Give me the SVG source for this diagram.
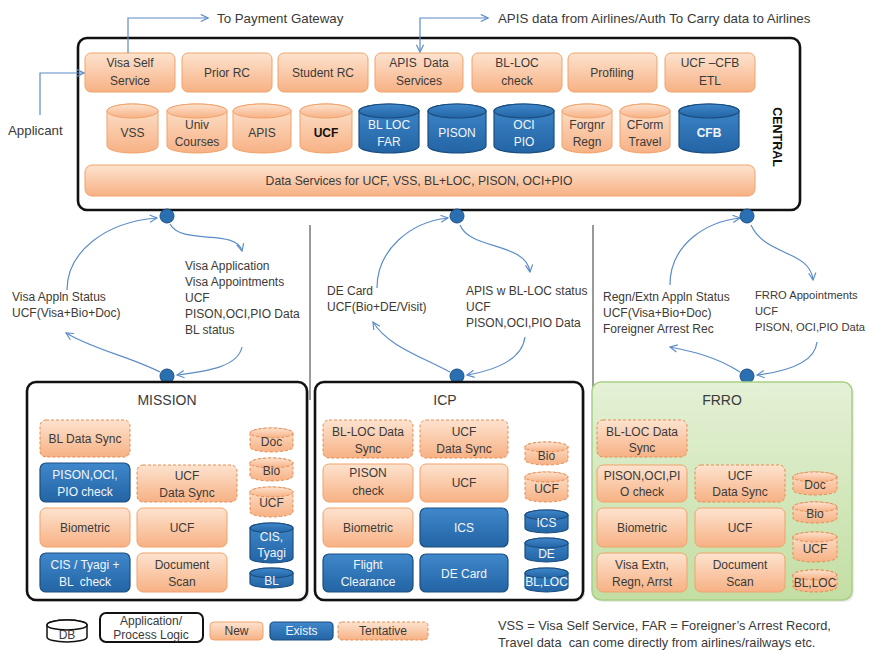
<svg xmlns="http://www.w3.org/2000/svg" width="870" height="653" viewBox="0 0 870 653">
<defs>
<linearGradient id="og" x1="0" y1="0" x2="0" y2="1"><stop offset="0" stop-color="#fde3cf"/><stop offset="1" stop-color="#f7b184"/></linearGradient>
<linearGradient id="bg" x1="0" y1="0" x2="0" y2="1"><stop offset="0" stop-color="#3f88cb"/><stop offset="1" stop-color="#2364a4"/></linearGradient>
<linearGradient id="fg" x1="0" y1="0" x2="0" y2="1"><stop offset="0" stop-color="#e4f1d6"/><stop offset="1" stop-color="#c3dea3"/></linearGradient>
<marker id="ah" viewBox="0 0 10 10" refX="9" refY="5" markerWidth="9" markerHeight="9" markerUnits="userSpaceOnUse" orient="auto-start-reverse"><path d="M1,1 L9,5 L1,9" fill="none" stroke="#5b8cc8" stroke-width="1.3"/></marker>
</defs>
<style>
text{font-family:"Liberation Sans",Arial,sans-serif;font-size:12px;fill:#3a3a3a}
.c{text-anchor:middle}
.w{fill:#f2f6fb}
.bd{font-weight:bold}
.lb{font-size:12px;fill:#3d3a36}
.lr{font-size:11.2px;fill:#3d3a36}
.tp{font-size:13.3px}
.o{fill:url(#og);stroke:#f1a36b;stroke-width:1}
.b{fill:url(#bg);stroke:#1b4e80;stroke-width:1.2}
.t{fill:url(#og);stroke:#e48c50;stroke-width:1;stroke-dasharray:3 2}
.k{fill:#fff;stroke:#111;stroke-width:2.6}
.ln{fill:none;stroke:#5b8cc8;stroke-width:1.2}
.dot{fill:#2b6fb3;stroke:#1c4f82;stroke-width:1}
.div{stroke:#555;stroke-width:1.2}
</style>
<rect width="870" height="653" fill="#fff"/>

<g id="central">
<rect class="k" x="78" y="38" width="722" height="172" rx="9"/>
<text class="bd" transform="translate(773,137) rotate(90)" text-anchor="middle" style="font-size:12.5px;fill:#111">CENTRAL</text>
</g>
<g id="visa-self-service"><rect class="o" x="85" y="53" width="90" height="39" rx="6"/><text class="c" x="130" y="67">Visa Self</text><text class="c" x="130" y="85">Service</text></g>
<g id="prior-rc"><rect class="o" x="182" y="53" width="90" height="39" rx="6"/><text class="c" x="227" y="77">Prior RC</text></g>
<g id="student-rc"><rect class="o" x="278" y="53" width="90" height="39" rx="6"/><text class="c" x="323" y="77">Student RC</text></g>
<g id="apis-data-services"><rect class="o" x="375" y="53" width="88" height="39" rx="6"/><text class="c" x="419" y="67" xml:space="preserve">APIS  Data</text><text class="c" x="419" y="85">Services</text></g>
<g id="bl-loc-check"><rect class="o" x="472" y="53" width="90" height="39" rx="6"/><text class="c" x="517" y="67">BL-LOC</text><text class="c" x="517" y="85">check</text></g>
<g id="profiling"><rect class="o" x="568" y="53" width="89" height="39" rx="6"/><text class="c" x="612" y="77">Profiling</text></g>
<g id="ucf-cfb-etl"><rect class="o" x="665" y="53" width="90" height="39" rx="6"/><text class="c" x="710" y="67">UCF –CFB</text><text class="c" x="710" y="85">ETL</text></g>

<g id="db-vss"><path class="o" d="M107,111 V146 A25.5,7 0 0 0 158,146 V111 A25.5,7 0 0 0 107,111 Z"/><ellipse class="o" cx="132.5" cy="111" rx="25.5" ry="7"/><text class="c" x="132.5" y="137">VSS</text></g>
<g id="db-univ"><path class="o" d="M167,111 V146 A30,7 0 0 0 227,146 V111 A30,7 0 0 0 167,111 Z"/><ellipse class="o" cx="197" cy="111" rx="30" ry="7"/><text class="c" x="197" y="129">Univ</text><text class="c" x="197" y="146">Courses</text></g>
<g id="db-apis"><path class="o" d="M233,111 V146 A29,7 0 0 0 291,146 V111 A29,7 0 0 0 233,111 Z"/><ellipse class="o" cx="262" cy="111" rx="29" ry="7"/><text class="c" x="262" y="137">APIS</text></g>
<g id="db-ucf"><path class="o" d="M300,111 V146 A26,7 0 0 0 352,146 V111 A26,7 0 0 0 300,111 Z"/><ellipse class="o" cx="326" cy="111" rx="26" ry="7"/><text class="c bd" x="326" y="137" style="fill:#111">UCF</text></g>
<g id="db-blloc"><path class="b" d="M359,111 V146 A30,7 0 0 0 419,146 V111 A30,7 0 0 0 359,111 Z"/><ellipse class="b" cx="389" cy="111" rx="30" ry="7"/><text class="c w" x="389" y="129">BL LOC</text><text class="c w" x="389" y="146">FAR</text></g>
<g id="db-pison"><path class="b" d="M428,111 V146 A29,7 0 0 0 486,146 V111 A29,7 0 0 0 428,111 Z"/><ellipse class="b" cx="457" cy="111" rx="29" ry="7"/><text class="c w" x="457" y="137">PISON</text></g>
<g id="db-ocipio"><path class="b" d="M494,111 V146 A30,7 0 0 0 554,146 V111 A30,7 0 0 0 494,111 Z"/><ellipse class="b" cx="524" cy="111" rx="30" ry="7"/><text class="c w" x="524" y="129">OCI</text><text class="c w" x="524" y="146">PIO</text></g>
<g id="db-forgnr"><path class="o" d="M562,111 V146 A25,7 0 0 0 612,146 V111 A25,7 0 0 0 562,111 Z"/><ellipse class="o" cx="587" cy="111" rx="25" ry="7"/><text class="c" x="587" y="129">Forgnr</text><text class="c" x="587" y="146">Regn</text></g>
<g id="db-cform"><path class="o" d="M620,111 V146 A25,7 0 0 0 670,146 V111 A25,7 0 0 0 620,111 Z"/><ellipse class="o" cx="645" cy="111" rx="25" ry="7"/><text class="c" x="645" y="129">CForm</text><text class="c" x="645" y="146">Travel</text></g>
<g id="db-cfb"><path class="b" d="M679,111 V146 A30,7 0 0 0 739,146 V111 A30,7 0 0 0 679,111 Z"/><ellipse class="b" cx="709" cy="111" rx="30" ry="7"/><text class="c w bd" x="709" y="137">CFB</text></g>
<g id="data-services"><rect class="o" x="85" y="165" width="670" height="31" rx="7"/><text class="c" x="419" y="185" style="font-size:12.2px">Data Services for UCF, VSS, BL+LOC, PISON, OCI+PIO</text></g>

<g id="labels">
<text class="tp" x="217" y="23">To Payment Gateway</text>
<text class="tp" x="498" y="23">APIS data from Airlines/Auth To Carry data to Airlines</text>
<text class="tp" x="8" y="135">Applicant</text>
<text class="lb" x="12" y="301">Visa Appln Status</text>
<text class="lb" x="12" y="317">UCF(Visa+Bio+Doc)</text>
<text class="lb" x="185" y="270">Visa Application</text>
<text class="lb" x="185" y="286">Visa Appointments</text>
<text class="lb" x="185" y="302">UCF</text>
<text class="lb" x="185" y="318">PISON,OCI,PIO Data</text>
<text class="lb" x="185" y="334">BL status</text>
<text class="lb" x="327" y="295">DE Card</text>
<text class="lb" x="327" y="311">UCF(Bio+DE/Visit)</text>
<text class="lb" x="466" y="295">APIS w BL-LOC status</text>
<text class="lb" x="466" y="311">UCF</text>
<text class="lb" x="466" y="327">PISON,OCI,PIO Data</text>
<text class="lb" x="603" y="301">Regn/Extn Appln Status</text>
<text class="lb" x="603" y="317">UCF(Visa+Bio+Doc)</text>
<text class="lb" x="603" y="333">Foreigner Arrest Rec</text>
<text class="lr" x="755" y="299">FRRO Appointments</text>
<text class="lr" x="755" y="315">UCF</text>
<text class="lr" x="755" y="331">PISON, OCI,PIO Data</text>
</g>

<g id="connectors">
<path class="ln" d="M128,53 V18 H208" marker-end="url(#ah)"/>
<path class="ln" d="M488,18 H420 V52" marker-start="url(#ah)" marker-end="url(#ah)"/>
<path class="ln" d="M40,115 V73 H84" marker-end="url(#ah)"/>
<line class="div" x1="310" y1="225" x2="310" y2="400"/>
<line class="div" x1="593" y1="225" x2="593" y2="400"/>
<path class="ln" d="M67,290 C67,252 105,222 157,218" marker-end="url(#ah)"/>
<path class="ln" d="M170,224 C182,246 236,228 242,251" marker-end="url(#ah)"/>
<path class="ln" d="M242,347 C238,366 210,371 177,375" marker-end="url(#ah)"/>
<path class="ln" d="M160,372 C128,356 95,350 66,333" marker-end="url(#ah)"/>
<path class="ln" d="M377,288 C377,250 410,222 448,218" marker-end="url(#ah)"/>
<path class="ln" d="M460,225 C470,250 526,242 530,272" marker-end="url(#ah)"/>
<path class="ln" d="M525,337 C522,360 496,370 467,375" marker-end="url(#ah)"/>
<path class="ln" d="M450,372 C420,356 388,346 373,322" marker-end="url(#ah)"/>
<path class="ln" d="M670,285 C670,245 705,222 740,218" marker-end="url(#ah)"/>
<path class="ln" d="M751,225 C765,256 810,250 813,280" marker-end="url(#ah)"/>
<path class="ln" d="M817,342 C815,361 790,371 757,375" marker-end="url(#ah)"/>
<path class="ln" d="M740,372 C715,356 690,351 670,347" marker-end="url(#ah)"/>
<circle class="dot" cx="167" cy="216" r="7"/>
<circle class="dot" cx="457" cy="216" r="7"/>
<circle class="dot" cx="747" cy="216" r="7"/>
<circle class="dot" cx="167" cy="376" r="7"/>
<circle class="dot" cx="457" cy="376" r="7"/>
<circle class="dot" cx="747" cy="376" r="7"/>
</g>

<g id="mission">
<rect x="29" y="384" width="280" height="218" rx="9" fill="#000" opacity="0.12"/>
<rect class="k" x="27" y="382" width="280" height="218" rx="9"/>
<text class="c" x="167" y="405" style="font-size:14px">MISSION</text>
<g id="m-bl-data-sync"><rect class="t" x="40" y="420" width="90" height="37" rx="6"/><text class="c" x="85" y="443">BL Data Sync</text></g>
<g id="m-pison"><rect class="b" x="40" y="463" width="90" height="39" rx="6"/><text class="c w" x="85" y="479">PISON,OCI,</text><text class="c w" x="85" y="496">PIO check</text></g>
<g id="m-ucf-sync"><rect class="t" x="137" y="465" width="100" height="37" rx="6"/><text class="c" x="187" y="480">UCF</text><text class="c" x="187" y="497">Data Sync</text></g>
<g id="m-biometric"><rect class="o" x="40" y="508" width="90" height="39" rx="6"/><text class="c" x="85" y="532">Biometric</text></g>
<g id="m-ucf"><rect class="o" x="137" y="508" width="90" height="39" rx="6"/><text class="c" x="182" y="532">UCF</text></g>
<g id="m-cis"><rect class="b" x="40" y="553" width="90" height="39" rx="6"/><text class="c w" x="85" y="569">CIS / Tyagi +</text><text class="c w" x="85" y="586" xml:space="preserve">BL  check</text></g>
<g id="m-docscan"><rect class="o" x="137" y="553" width="90" height="39" rx="6"/><text class="c" x="182" y="569">Document</text><text class="c" x="182" y="586">Scan</text></g>
<g id="m-db-doc"><path class="t" d="M250,433 V447 A21.5,5 0 0 0 293,447 V433 A21.5,5 0 0 0 250,433 Z"/><ellipse class="t" cx="271.5" cy="433" rx="21.5" ry="5"/><text class="c" x="271.5" y="446">Doc</text></g>
<g id="m-db-bio"><path class="t" d="M250,463 V476 A21.5,5 0 0 0 293,476 V463 A21.5,5 0 0 0 250,463 Z"/><ellipse class="t" cx="271.5" cy="463" rx="21.5" ry="5"/><text class="c" x="271.5" y="475">Bio</text></g>
<g id="m-db-ucf"><path class="t" d="M250,492 V512 A21.5,5 0 0 0 293,512 V492 A21.5,5 0 0 0 250,492 Z"/><ellipse class="t" cx="271.5" cy="492" rx="21.5" ry="5"/><text class="c" x="271.5" y="507">UCF</text></g>
<g id="m-db-cis"><path class="b" d="M250,528 V558 A21.5,5 0 0 0 293,558 V528 A21.5,5 0 0 0 250,528 Z"/><ellipse class="b" cx="271.5" cy="528" rx="21.5" ry="5"/><text class="c w" x="271.5" y="541">CIS,</text><text class="c w" x="271.5" y="557">Tyagi</text></g>
<g id="m-db-bl"><path class="b" d="M250,573 V583 A21.5,5 0 0 0 293,583 V573 A21.5,5 0 0 0 250,573 Z"/><ellipse class="b" cx="271.5" cy="573" rx="21.5" ry="5"/><text class="c w" x="271.5" y="585">BL</text></g>
</g>

<g id="icp">
<rect x="317" y="384" width="268" height="218" rx="9" fill="#000" opacity="0.12"/>
<rect class="k" x="315" y="382" width="268" height="218" rx="9"/>
<text class="c" x="445" y="405" style="font-size:14px">ICP</text>
<g id="i-blloc-sync"><rect class="t" x="323" y="420" width="90" height="38" rx="6"/><text class="c" x="368" y="436">BL-LOC Data</text><text class="c" x="368" y="453">Sync</text></g>
<g id="i-ucf-sync"><rect class="t" x="420" y="420" width="88" height="38" rx="6"/><text class="c" x="464" y="436">UCF</text><text class="c" x="464" y="453">Data Sync</text></g>
<g id="i-pison"><rect class="o" x="323" y="464" width="90" height="38" rx="6"/><text class="c" x="368" y="477">PISON</text><text class="c" x="368" y="495">check</text></g>
<g id="i-ucf"><rect class="o" x="420" y="464" width="88" height="38" rx="6"/><text class="c" x="464" y="487">UCF</text></g>
<g id="i-biometric"><rect class="o" x="323" y="508" width="90" height="39" rx="6"/><text class="c" x="368" y="532">Biometric</text></g>
<g id="i-ics"><rect class="b" x="420" y="508" width="88" height="39" rx="6"/><text class="c w" x="464" y="532">ICS</text></g>
<g id="i-flight"><rect class="b" x="323" y="554" width="90" height="38" rx="6"/><text class="c w" x="368" y="569">Flight</text><text class="c w" x="368" y="586">Clearance</text></g>
<g id="i-decard"><rect class="b" x="420" y="554" width="88" height="38" rx="6"/><text class="c w" x="464" y="578">DE Card</text></g>
<g id="i-db-bio"><path class="t" d="M525,447 V460 A21.5,5 0 0 0 568,460 V447 A21.5,5 0 0 0 525,447 Z"/><ellipse class="t" cx="546.5" cy="447" rx="21.5" ry="5"/><text class="c" x="546.5" y="460">Bio</text></g>
<g id="i-db-ucf"><path class="t" d="M525,477 V497 A21.5,5 0 0 0 568,497 V477 A21.5,5 0 0 0 525,477 Z"/><ellipse class="t" cx="546.5" cy="477" rx="21.5" ry="5"/><text class="c" x="546.5" y="493">UCF</text></g>
<g id="i-db-ics"><path class="b" d="M525,515 V528 A21.5,5 0 0 0 568,528 V515 A21.5,5 0 0 0 525,515 Z"/><ellipse class="b" cx="546.5" cy="515" rx="21.5" ry="5"/><text class="c w" x="546.5" y="527">ICS</text></g>
<g id="i-db-de"><path class="b" d="M525,543 V557 A21.5,5 0 0 0 568,557 V543 A21.5,5 0 0 0 525,543 Z"/><ellipse class="b" cx="546.5" cy="543" rx="21.5" ry="5"/><text class="c w" x="546.5" y="558">DE</text></g>
<g id="i-db-blloc"><path class="b" d="M525,573 V587 A21.5,5 0 0 0 568,587 V573 A21.5,5 0 0 0 525,573 Z"/><ellipse class="b" cx="546.5" cy="573" rx="21.5" ry="5"/><text class="c w" x="546.5" y="586">BL,LOC</text></g>
</g>

<g id="frro">
<rect x="594" y="384" width="260" height="218" rx="9" fill="#000" opacity="0.08"/>
<rect x="592" y="382" width="260" height="218" rx="9" fill="url(#fg)" stroke="#a8cf85" stroke-width="1.5"/>
<text class="c" x="722" y="405" style="font-size:14px">FRRO</text>
<g id="f-blloc-sync"><rect class="t" x="597" y="420" width="90" height="37" rx="6"/><text class="c" x="642" y="436">BL-LOC Data</text><text class="c" x="642" y="452">Sync</text></g>
<g id="f-pison"><rect class="o" x="597" y="465" width="90" height="37" rx="6"/><text class="c" x="642" y="480">PISON,OCI,PI</text><text class="c" x="642" y="496">O check</text></g>
<g id="f-ucf-sync"><rect class="t" x="695" y="465" width="90" height="37" rx="6"/><text class="c" x="740" y="480">UCF</text><text class="c" x="740" y="496">Data Sync</text></g>
<g id="f-biometric"><rect class="o" x="597" y="508" width="90" height="39" rx="6"/><text class="c" x="642" y="532">Biometric</text></g>
<g id="f-ucf"><rect class="o" x="695" y="508" width="90" height="39" rx="6"/><text class="c" x="740" y="532">UCF</text></g>
<g id="f-visa-extn"><rect class="o" x="597" y="553" width="90" height="39" rx="6"/><text class="c" x="642" y="569">Visa Extn,</text><text class="c" x="642" y="586">Regn, Arrst</text></g>
<g id="f-docscan"><rect class="o" x="695" y="553" width="90" height="39" rx="6"/><text class="c" x="740" y="569">Document</text><text class="c" x="740" y="586">Scan</text></g>
<g id="f-db-doc"><path class="t" d="M793,477 V490 A22,5 0 0 0 837,490 V477 A22,5 0 0 0 793,477 Z"/><ellipse class="t" cx="815" cy="477" rx="22" ry="5"/><text class="c" x="815" y="489">Doc</text></g>
<g id="f-db-bio"><path class="t" d="M793,507 V518 A22,5 0 0 0 837,518 V507 A22,5 0 0 0 793,507 Z"/><ellipse class="t" cx="815" cy="507" rx="22" ry="5"/><text class="c" x="815" y="518">Bio</text></g>
<g id="f-db-ucf"><path class="t" d="M793,537 V557 A22,5 0 0 0 837,557 V537 A22,5 0 0 0 793,537 Z"/><ellipse class="t" cx="815" cy="537" rx="22" ry="5"/><text class="c" x="815" y="553">UCF</text></g>
<g id="f-db-blloc"><path class="t" d="M793,575 V587 A22,5 0 0 0 837,587 V575 A22,5 0 0 0 793,575 Z"/><ellipse class="t" cx="815" cy="575" rx="22" ry="5"/><text class="c" x="815" y="587">BL,LOC</text></g>
</g>

<g id="legend">
<g id="lg-db"><path d="M47,625 V637 A20,5 0 0 0 87,637 V625 A20,5 0 0 0 47,625 Z" fill="#fff" stroke="#111" stroke-width="1.5"/><ellipse cx="67" cy="625" rx="20" ry="5" fill="#fff" stroke="#111" stroke-width="1.5"/><text class="c" x="67" y="639">DB</text></g>
<g id="lg-app"><rect x="100" y="613" width="103" height="29" rx="6" fill="#fff" stroke="#111" stroke-width="2"/><text class="c" x="151" y="625">Application/</text><text class="c" x="151" y="639">Process Logic</text></g>
<g id="lg-new"><rect class="o" x="210" y="622" width="53" height="18" rx="4"/><text class="c" x="236.5" y="635">New</text></g>
<g id="lg-exists"><rect class="b" x="270" y="622" width="63" height="18" rx="4"/><text class="c w" x="301.5" y="635">Exists</text></g>
<g id="lg-tent"><rect class="t" x="338" y="622" width="90" height="18" rx="4"/><text class="c" x="383" y="635">Tentative</text></g>
<text class="tp" x="498" y="630" style="font-size:12.8px">VSS = Visa Self Service, FAR = Foreigner’s Arrest Record,</text>
<text class="tp" x="498" y="647" style="font-size:12.8px" xml:space="preserve">Travel data  can come directly from airlines/railways etc.</text>
</g>
</svg>
